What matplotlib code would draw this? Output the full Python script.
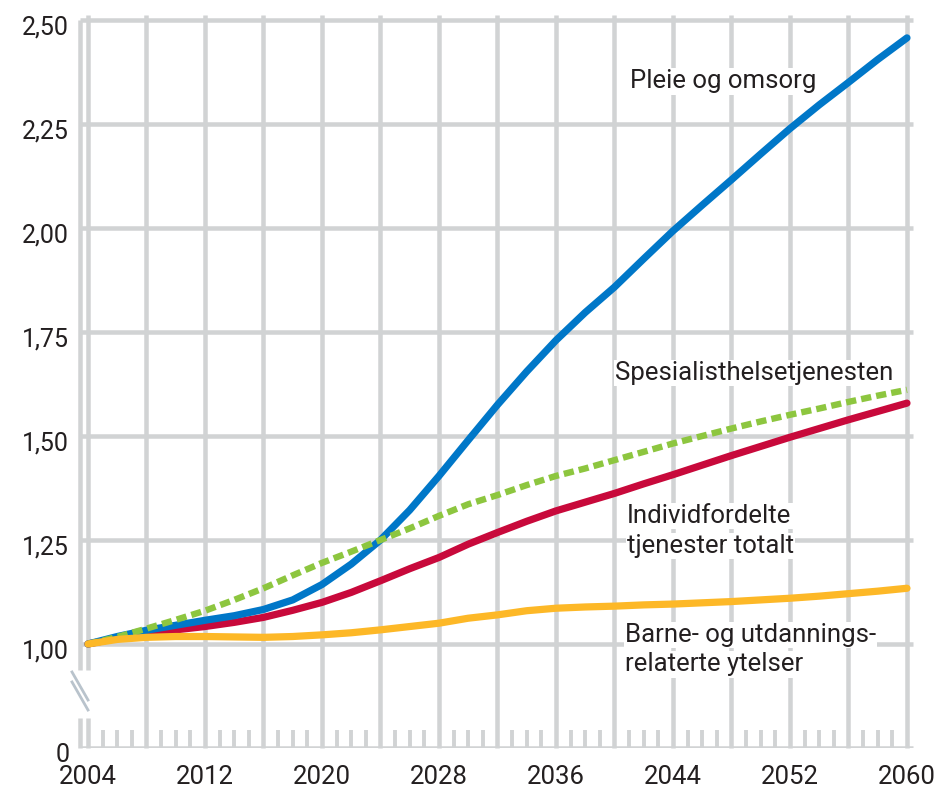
import matplotlib
matplotlib.use('Agg')
import matplotlib.pyplot as plt
from matplotlib.transforms import ScaledTranslation

# ---------------- data ----------------
years = list(range(2004, 2061, 2))
pleie = [1.000, 1.018, 1.033, 1.045, 1.057, 1.068, 1.083, 1.106, 1.143, 1.192,
         1.250, 1.322, 1.404, 1.490, 1.575, 1.655, 1.730, 1.797, 1.858, 1.926,
         1.993, 2.055, 2.116, 2.178, 2.239, 2.296, 2.350, 2.405, 2.457]
spesialist = [1.000, 1.017, 1.037, 1.058, 1.080, 1.106, 1.134, 1.165, 1.195, 1.222,
              1.250, 1.278, 1.308, 1.336, 1.358, 1.382, 1.404, 1.422, 1.442, 1.462,
              1.482, 1.500, 1.518, 1.535, 1.551, 1.566, 1.582, 1.597, 1.611]
individ = [1.000, 1.014, 1.026, 1.034, 1.042, 1.052, 1.064, 1.081, 1.100, 1.124,
           1.152, 1.181, 1.208, 1.240, 1.268, 1.295, 1.320, 1.341, 1.362, 1.385,
           1.407, 1.430, 1.453, 1.475, 1.497, 1.518, 1.539, 1.559, 1.579]
barne = [1.000, 1.011, 1.016, 1.018, 1.018, 1.017, 1.016, 1.018, 1.022, 1.027,
         1.034, 1.042, 1.050, 1.062, 1.070, 1.080, 1.086, 1.089, 1.091, 1.094,
         1.096, 1.099, 1.102, 1.106, 1.110, 1.115, 1.121, 1.127, 1.134]

grid_years = list(range(2008, 2061, 4))
minor_years = [y for y in range(2005, 2060) if y % 4 != 0]
y_grid = [1.00, 1.25, 1.50, 1.75, 2.00, 2.25, 2.50]
y_tick_vals = [0.75] + y_grid
y_tick_labels = ['0', '1,00', '1,25', '1,50', '1,75', '2,00', '2,25', '2,50']
x_tick_vals = list(range(2004, 2061, 8))
x_tick_labels = [str(v) for v in x_tick_vals]

labels = [
    ("Pleie og omsorg", 2041.05, 2.336),
    ("Spesialisthelsetjenesten", 2040.05, 1.635),
    ("Individfordelte", 2040.85, 1.291),
    ("tjenester totalt", 2040.85, 1.219),
    ("Barne- og utdannings-", 2040.72, 1.005),
    ("relaterte ytelser", 2040.72, 0.934),
]

# ---------------- style ----------------
FONT = ['Roboto', 'DejaVu Sans']
plt.rcParams['font.family'] = FONT
GRID = '#d1d3d4'
TXT = '#231f20'
BLUE = '#0077c8'
RED = '#c8093b'
GREEN = '#8dc63f'
ORANGE = '#fdb827'
BREAK = '#b9c3cc'

fig = plt.figure(figsize=(9.41, 7.90), dpi=100)
ax = fig.add_axes([73.375 / 941, 42 / 790, 845.3 / 941, 734.24 / 790])
ax.set_xlim(2003.0, 2060.8)
ax.set_ylim(0.75, 2.515)
for s in ax.spines.values():
    s.set_visible(False)

glw = 3.25
x_left_outer = 2003.45
x_right = 2060.41
# horizontal grid + baseline
ax.hlines(y_grid + [0.75], x_left_outer, x_right, color=GRID, lw=glw, zorder=1)
# vertical grid
ax.vlines(grid_years, 0.75, 2.512, color=GRID, lw=glw, zorder=1, clip_on=False)
# broken left double line (outer axis line and 2004 line)
for xv, top in ((x_left_outer, 2.50), (2004, 2.512)):
    ax.vlines([xv], 0.9375, top, color=GRID, lw=glw, zorder=1, clip_on=False)
    ax.vlines([xv], 0.75, 0.822, color=GRID, lw=glw, zorder=1, clip_on=False)
# minor yearly ticks
ax.vlines(minor_years, 0.75, 0.793, color=GRID, lw=2.8, zorder=1)
# break marker
ax.plot([2002.906, 2004.0], [0.9327, 0.8654], color=BREAK, lw=2, clip_on=False, zorder=2)
ax.plot([2002.906, 2004.0], [0.9087, 0.8413], color=BREAK, lw=2, clip_on=False, zorder=2)

# ---------------- series ----------------
common = dict(solid_capstyle='round', solid_joinstyle='round')
ax.plot(years, individ, color=RED, lw=5.2, zorder=4, **common)
ax.plot(years, pleie, color=BLUE, lw=5.2, zorder=5, **common)
ax.plot(years, spesialist, color=GREEN, lw=4.6, ls=(0, (1.6, 0.8)),
        dash_capstyle='butt', dash_joinstyle='round', zorder=6)
ax.plot(years, barne, color=ORANGE, lw=5.2, zorder=7, **common)

# ---------------- labels ----------------
for txt, xv, yv in labels:
    ax.text(xv, yv, txt, ha='left', va='baseline', fontsize=18.5, color=TXT,
            zorder=3, bbox=dict(facecolor='white', edgecolor='none', pad=1.0))

# ---------------- ticks ----------------
ax.set_xticks(x_tick_vals, x_tick_labels)
ax.set_yticks(y_tick_vals, y_tick_labels)
ax.tick_params(axis='x', length=0, pad=12, labelsize=18.5, colors=TXT)
ax.tick_params(axis='y', length=0, pad=3, labelsize=18, colors=TXT)
off = ScaledTranslation(0, -5 / 100, fig.dpi_scale_trans)
for lab in ax.get_yticklabels():
    lab.set_transform(lab.get_transform() + off)

fig.savefig('out.png', dpi=100, facecolor='white')
